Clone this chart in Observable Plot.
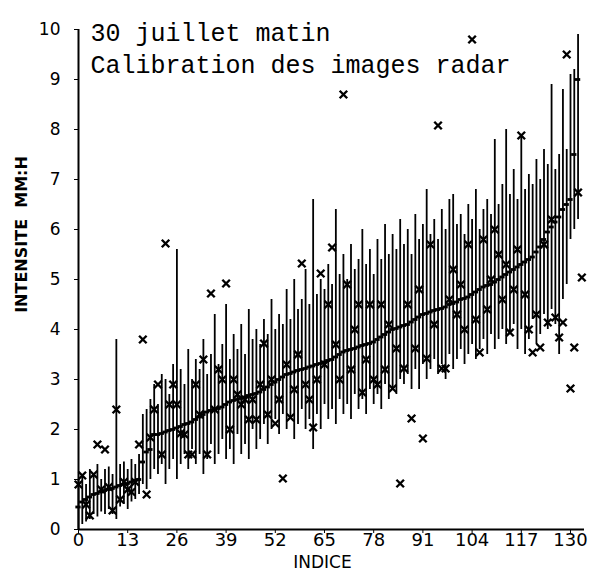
<!DOCTYPE html>
<html>
<head>
<meta charset="utf-8">
<script src="https://cdn.jsdelivr.net/npm/d3@7"></script>
<script src="https://cdn.jsdelivr.net/npm/@observablehq/plot@0.6"></script>
<style>
  html, body { margin: 0; padding: 0; background: #fff; }
  #chart svg { display: block; }
</style>
</head>
<body>
<div id="chart"></div>
<script>
const titleLines = ["30 juillet matin", "Calibration des images radar"];
const xLabel = "INDICE";
const yLabel = "INTENSITE  MM:H";
const xTicks = [0, 13, 26, 39, 52, 65, 78, 91, 104, 117, 130];
const yTicks = [0, 1, 2, 3, 4, 5, 6, 7, 8, 9, 10];

const center = [0.45,0.55,0.6,0.65,0.7,0.72,0.75,0.78,0.8,0.82,
  0.85,0.88,0.9,0.92,0.95,0.98,1.0,1.35,1.55,1.6,
  1.9,1.9,1.92,1.95,1.98,2.0,2.03,2.06,2.1,2.12,
  2.15,2.2,2.25,2.3,2.35,2.38,2.4,2.42,2.45,2.5,
  2.55,2.58,2.6,2.62,2.65,2.68,2.7,2.72,2.75,2.8,
  2.85,2.9,2.95,3.0,3.05,3.1,3.12,3.15,3.18,3.2,
  3.22,3.25,3.27,3.3,3.32,3.35,3.38,3.4,3.45,3.5,
  3.55,3.58,3.6,3.62,3.65,3.68,3.7,3.72,3.75,3.8,
  3.85,3.9,3.95,4.0,4.02,4.05,4.08,4.1,4.15,4.2,
  4.25,4.3,4.32,4.35,4.38,4.4,4.42,4.45,4.5,4.52,
  4.55,4.6,4.62,4.65,4.7,4.75,4.8,4.85,4.88,4.9,
  4.95,5.0,5.05,5.1,5.15,5.2,5.25,5.3,5.35,5.4,
  5.45,5.55,5.65,5.8,5.95,6.05,6.15,6.25,6.4,6.5,
  6.6,7.5,9.0,null];

const low = [0.0,0.1,0.15,0.2,0.3,0.25,0.35,0.3,0.4,0.3,
  0.2,0.45,0.5,0.4,0.55,0.6,0.7,0.9,0.8,1.0,
  1.2,1.1,1.3,0.9,1.2,1.4,1.0,1.3,1.5,1.2,
  1.6,1.3,1.5,1.1,1.4,1.7,1.3,1.5,1.8,1.4,
  1.6,1.3,1.9,1.5,1.7,1.4,2.0,1.6,1.8,2.1,
  1.7,2.0,2.2,1.9,2.3,2.0,2.2,1.8,2.1,2.4,
  2.0,2.2,1.6,2.3,2.0,2.5,2.2,2.4,2.1,2.6,
  2.3,2.5,2.2,2.7,2.4,2.6,2.3,2.8,2.5,2.7,
  2.4,2.9,2.6,2.8,2.7,3.0,2.9,3.1,2.8,3.2,
  2.8,3.3,3.0,3.2,3.4,3.1,3.3,3.0,3.5,3.2,
  3.4,3.6,3.3,3.5,3.7,3.4,3.6,3.8,3.5,3.9,
  3.6,3.8,4.0,3.7,3.9,4.1,3.6,4.0,3.5,3.8,
  4.2,3.7,3.9,4.3,4.0,4.4,4.1,3.5,4.6,4.9,
  5.8,6.0,6.2,null];

const high = [1.0,1.1,0.9,1.2,1.1,1.3,1.0,1.2,1.25,1.1,
  3.8,1.3,1.35,1.2,1.4,1.3,1.5,2.3,2.4,2.6,
  2.9,2.5,3.1,3.0,2.7,3.3,5.6,3.2,2.9,3.6,
  3.0,3.4,3.2,3.8,3.1,3.5,4.3,3.3,3.7,4.5,
  3.4,3.9,3.6,4.1,3.5,4.4,3.8,4.0,3.7,4.2,
  3.9,4.6,4.0,4.3,4.1,4.8,4.2,5.0,4.4,4.6,
  5.2,4.5,6.6,4.7,5.0,4.8,5.3,4.9,6.4,5.1,
  5.5,5.0,5.7,5.2,5.4,6.0,5.3,5.6,5.1,5.8,
  5.4,6.1,5.5,5.9,5.6,6.2,5.7,6.0,5.5,6.3,
  5.8,6.1,6.8,5.9,6.2,5.8,6.4,6.0,6.6,6.7,
  6.1,6.3,5.9,6.5,6.2,6.8,6.0,6.4,6.6,6.3,
  7.8,6.5,6.9,8.0,6.7,7.2,6.6,7.9,6.8,7.1,
  6.9,7.4,7.0,7.6,7.3,8.9,7.2,7.5,8.8,7.6,
  9.1,9.2,9.9,null];

const marker = [0.9,1.08,0.5,0.28,1.1,1.7,0.8,1.6,0.85,0.38,
  2.4,0.6,0.95,0.8,0.75,0.95,1.7,3.8,0.7,1.84,
  2.4,2.9,1.5,5.72,2.5,2.9,2.5,1.92,1.9,1.5,
  1.5,2.9,2.3,3.4,1.5,4.72,2.4,3.2,3.0,4.92,
  2.0,3.0,2.7,2.5,2.6,2.2,2.6,2.2,2.9,3.72,
  2.3,3.0,2.12,2.6,1.02,3.3,2.24,2.8,3.5,5.32,
  2.9,2.6,2.04,3.0,5.12,3.3,4.5,5.64,3.7,3.0,
  8.7,4.9,3.2,4.0,4.5,2.74,3.4,4.5,3.0,2.9,
  4.5,3.2,4.1,2.82,3.62,0.92,3.22,4.5,2.22,3.62,
  4.8,1.82,3.42,5.7,4.1,8.08,3.22,3.22,4.6,5.2,
  4.3,4.9,4.0,5.7,9.8,4.2,3.54,5.8,4.4,5.0,
  6.0,5.5,4.6,5.3,3.94,4.8,5.6,7.88,4.7,4.0,
  3.54,4.3,3.64,5.7,4.14,6.2,4.24,3.84,4.14,9.5,
  2.82,3.64,6.74,5.04];

const data = center.map((c, i) => ({i, c, lo: low[i], hi: high[i], m: marker[i]}));

const chart = Plot.plot({
  width: 600,
  height: 578,
  marginLeft: 78,
  marginRight: 16,
  marginTop: 29,
  marginBottom: 49,
  style: {fontFamily: "DejaVu Sans", fontSize: "16px", color: "#000", background: "#fff"},
  x: {domain: [0, 133.7], ticks: xTicks, label: null},
  y: {domain: [0, 10], ticks: yTicks, label: null},
  marks: [
    Plot.axisX({ticks: xTicks, tickSize: 4, tickPadding: 0, fontSize: 18, label: null, tickFormat: d => String(d)}),
    Plot.axisY({ticks: yTicks, tickSize: 4, tickPadding: 14, fontSize: 17, label: null, tickFormat: d => String(d)}),
    Plot.ruleX(data.filter(d => d.lo != null), {x: "i", y1: "lo", y2: "hi", stroke: "#000", strokeWidth: 1.8}),
    Plot.ruleY(data.filter(d => d.c != null), {y: "c", x1: d => d.i - 0.7, x2: d => d.i + 0.7, stroke: "#000", strokeWidth: 2.8}),
    Plot.dot(data, {x: "i", y: "m", symbol: "times", r: 3.5, stroke: "#000", strokeWidth: 2.4}),
    Plot.ruleX([0], {stroke: "#000", strokeWidth: 2}),
    Plot.ruleY([0], {stroke: "#000", strokeWidth: 2}),
    Plot.text([titleLines.join("\n")], {frameAnchor: "top-left", dx: 12, dy: -12, lineHeight: 1.3, textAnchor: "start", fontFamily: "Liberation Mono", fontSize: 25, fill: "#000"}),
    Plot.text([xLabel], {frameAnchor: "bottom", dx: -9, dy: 38, textAnchor: "middle", fontFamily: "DejaVu Sans", fontSize: 17, letterSpacing: "1px", fill: "#000"}),
    Plot.text([yLabel], {frameAnchor: "left", dx: -57, dy: -45, rotate: -90, textAnchor: "middle", fontFamily: "DejaVu Sans", fontWeight: "bold", fontSize: 16, letterSpacing: "1.5px", fill: "#000"})
  ]
});
document.getElementById("chart").appendChild(chart);
</script>
</body>
</html>
